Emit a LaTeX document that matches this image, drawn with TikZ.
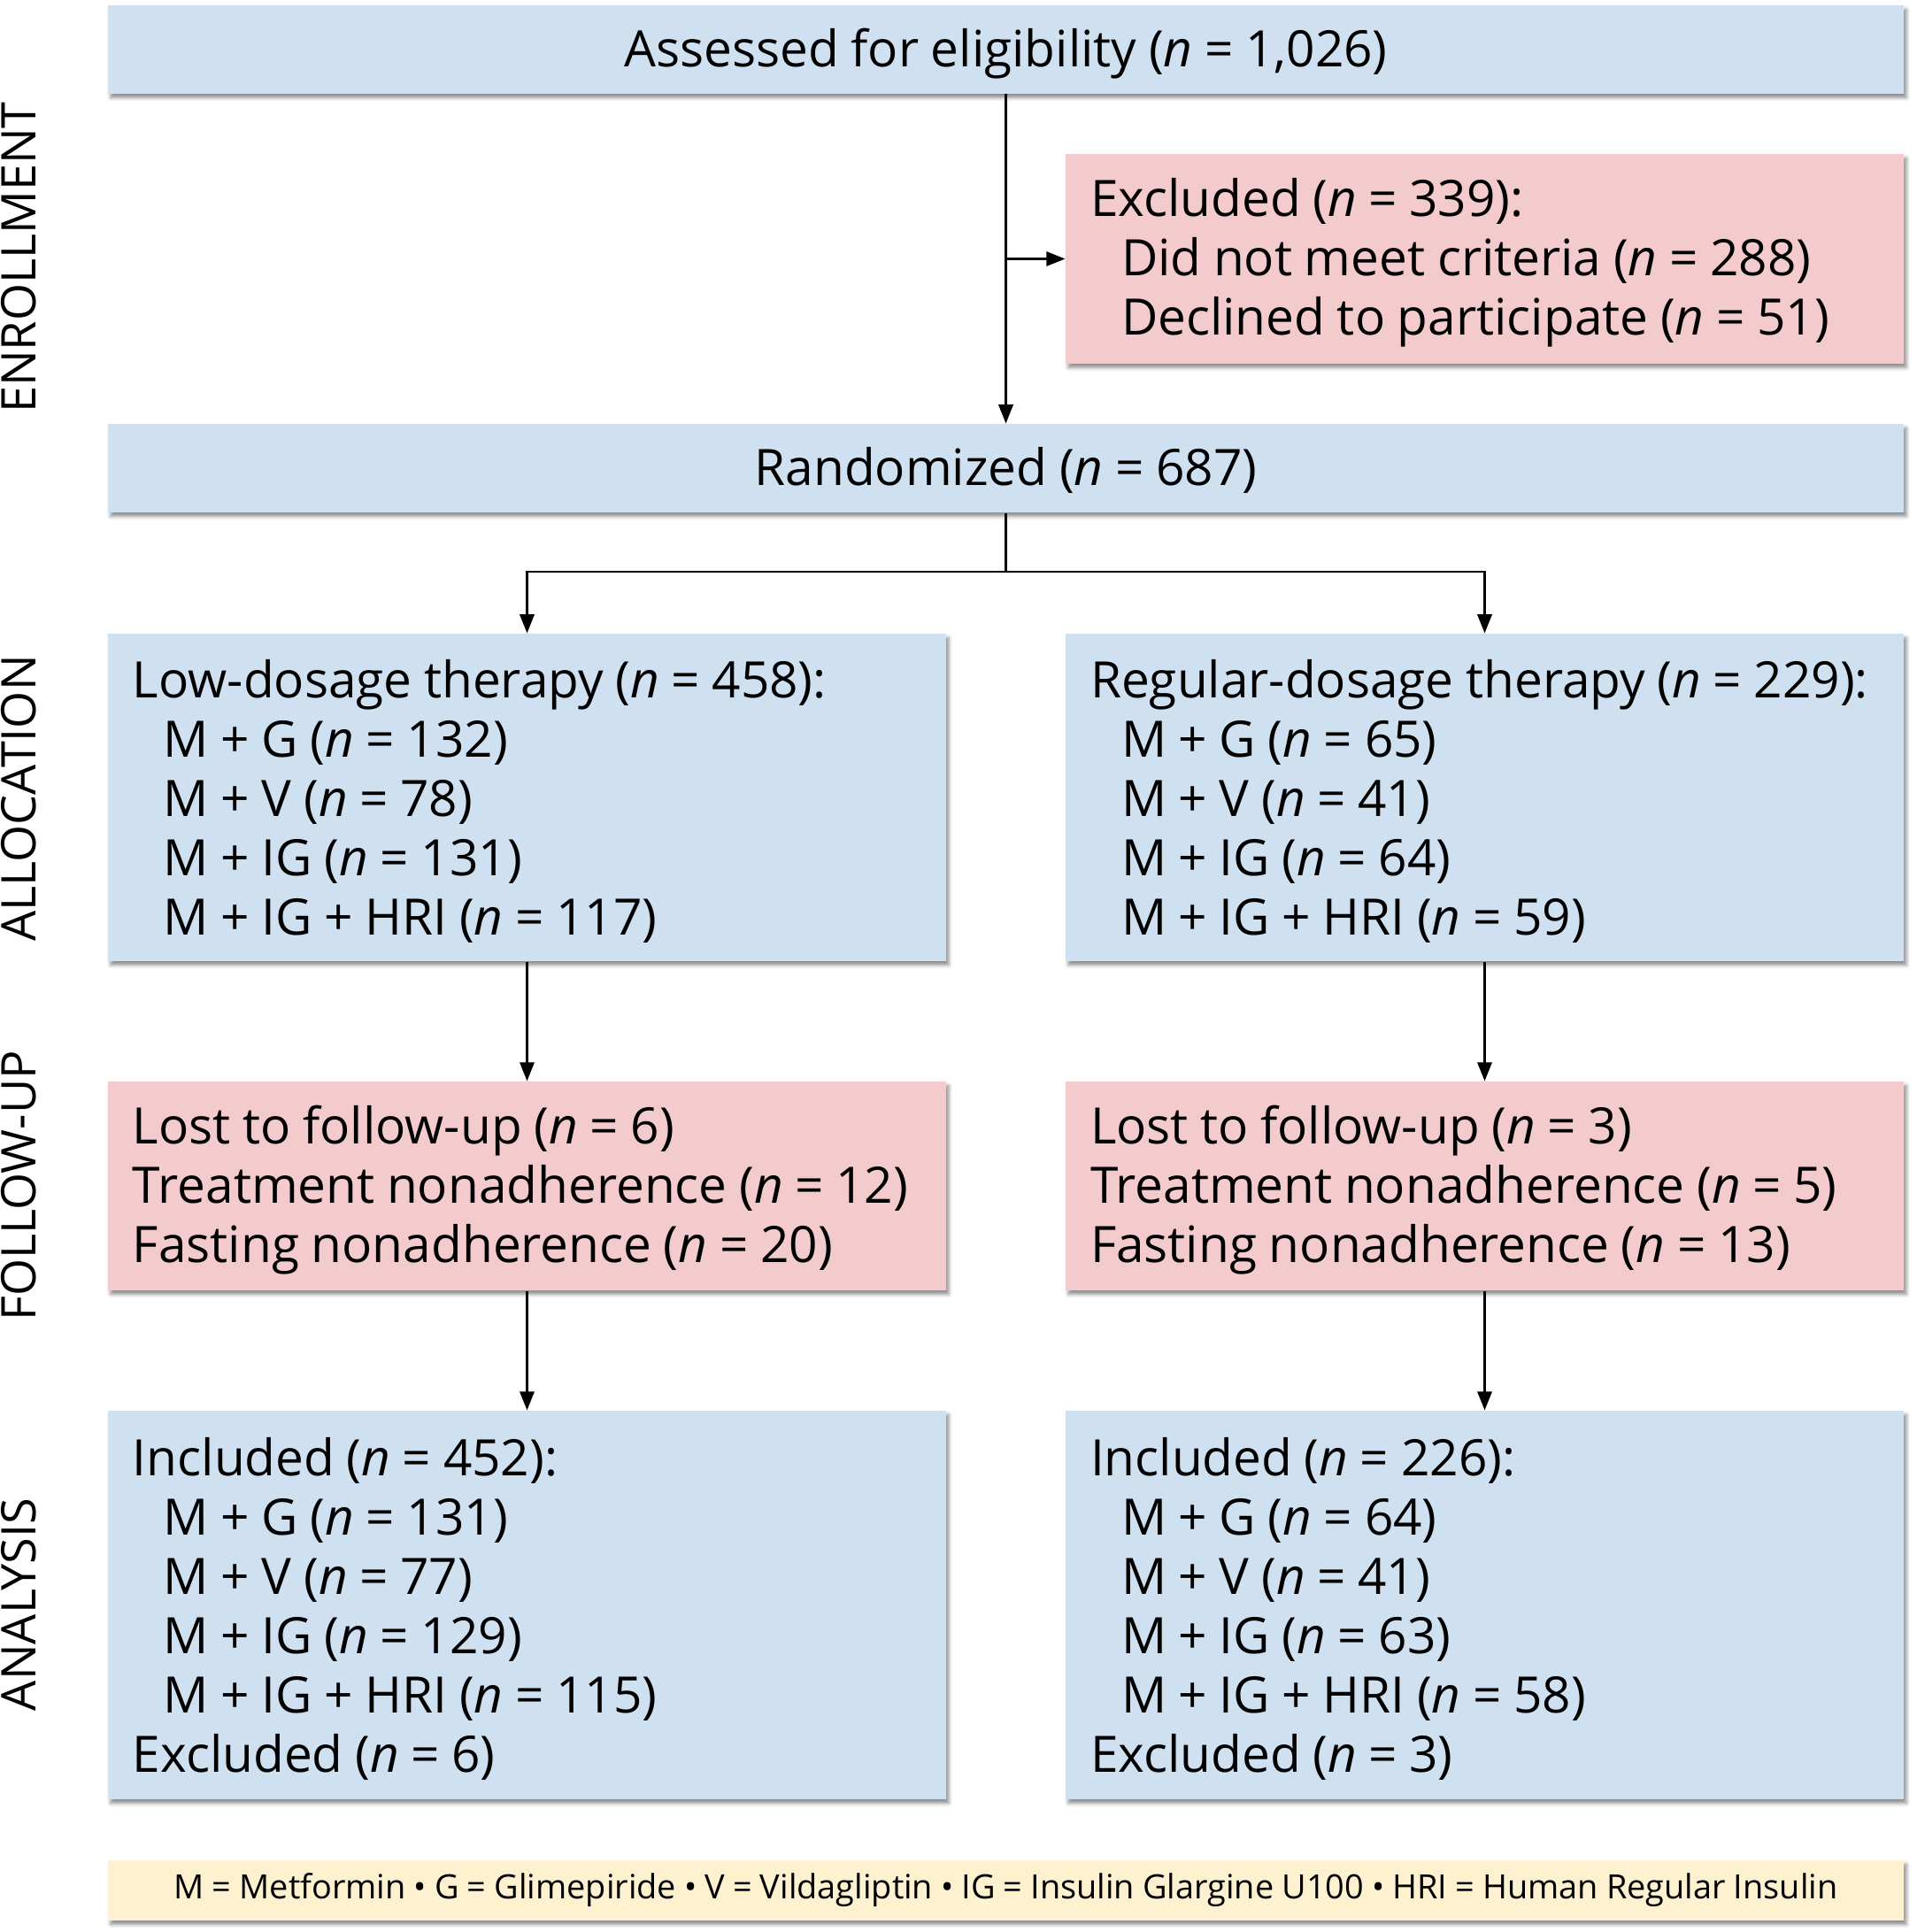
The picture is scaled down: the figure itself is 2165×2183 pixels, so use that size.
\documentclass[tikz,border=0pt]{standalone}
\usepackage{fontspec}
\setmainfont{Open Sans}
\usetikzlibrary{arrows.meta,shadows.blur}
\definecolor{boxblue}{RGB}{207,224,241}
\definecolor{boxpink}{RGB}{243,203,204}
\definecolor{boxyellow}{RGB}{253,241,207}
\newcommand{\nn}{\textit{n}}
\newcommand{\ind}{\hspace*{14pt}}
\newcommand{\tightspaces}{\spaceskip=0.24em plus 0.05em minus 0.02em\relax}
\newcommand{\boxfont}{\fontsize{22.7pt}{26.8pt}\selectfont}
\newcommand{\legendfont}{\fontsize{15.15pt}{18pt}\selectfont}
\begin{document}
\begin{tikzpicture}[x=0.4pt,y=-0.4pt,
  box/.style={draw=none, inner xsep=11.2pt, inner ysep=0pt, align=left,
    font=\boxfont, execute at begin node={\tightspaces},
    blur shadow={shadow xshift=1.2pt, shadow yshift=-1.8pt, shadow blur radius=1.6pt, shadow opacity=45}},
  bluebox/.style={box, fill=boxblue},
  pinkbox/.style={box, fill=boxpink},
  widebox/.style={minimum width=811.6pt, minimum height=40pt, align=center,
    text height=21pt, text depth=5.2pt},
  halfbox/.style={text width=356.4pt, execute at begin node={\tightspaces\rule{0pt}{21pt}}},
  conn/.style={line width=1.05pt, -{Triangle[length=8.5pt,width=6.5pt]}},
  plain/.style={line width=1.05pt},
  sidelabel/.style={rotate=90, font=\fontsize{21.6pt}{24pt}\selectfont, inner sep=0pt},
]
\useasboundingbox (0,0) rectangle (2165,2183);

% side labels
\node[sidelabel] (lenr) at (21,291) {ENROLLMENT};
\node[sidelabel] (lall) at (21,902) {ALLOCATION};
\node[sidelabel] (lfol) at (21,1340) {FOLLOW-UP};
\node[sidelabel] (lana) at (21,1813) {ANALYSIS};

% boxes
\node[bluebox, widebox] (top) at (1136.5,56) {Assessed for eligibility (\nn{} = 1,026)};
\node[pinkbox, halfbox, minimum height=94.8pt] (excl) at (1677.5,292.5)
  {Excluded (\nn{} = 339):\\
   \ind Did not meet criteria (\nn{} = 288)\\
   \ind Declined to participate (\nn{} = 51)};
\node[bluebox, widebox] (rand) at (1136.5,529) {Randomized (\nn{} = 687)};

\node[bluebox, halfbox, minimum height=148pt] (allocL) at (595.5,901)
  {Low-dosage therapy (\nn{} = 458):\\
   \ind M + G (\nn{} = 132)\\
   \ind M + V (\nn{} = 78)\\
   \ind M + IG (\nn{} = 131)\\
   \ind M + IG + HRI (\nn{} = 117)};
\node[bluebox, halfbox, minimum height=148pt] (allocR) at (1677.5,901)
  {Regular-dosage therapy (\nn{} = 229):\\
   \ind M + G (\nn{} = 65)\\
   \ind M + V (\nn{} = 41)\\
   \ind M + IG (\nn{} = 64)\\
   \ind M + IG + HRI (\nn{} = 59)};

\node[pinkbox, halfbox, minimum height=94.4pt] (fuL) at (595.5,1340)
  {Lost to follow-up (\nn{} = 6)\\
   Treatment nonadherence (\nn{} = 12)\\
   Fasting nonadherence (\nn{} = 20)};
\node[pinkbox, halfbox, minimum height=94.4pt] (fuR) at (1677.5,1340)
  {Lost to follow-up (\nn{} = 3)\\
   Treatment nonadherence (\nn{} = 5)\\
   Fasting nonadherence (\nn{} = 13)};

\node[bluebox, halfbox, minimum height=175.6pt] (anL) at (595.5,1813.5)
  {Included (\nn{} = 452):\\
   \ind M + G (\nn{} = 131)\\
   \ind M + V (\nn{} = 77)\\
   \ind M + IG (\nn{} = 129)\\
   \ind M + IG + HRI (\nn{} = 115)\\
   Excluded (\nn{} = 6)};
\node[bluebox, halfbox, minimum height=175.6pt] (anR) at (1677.5,1813.5)
  {Included (\nn{} = 226):\\
   \ind M + G (\nn{} = 64)\\
   \ind M + V (\nn{} = 41)\\
   \ind M + IG (\nn{} = 63)\\
   \ind M + IG + HRI (\nn{} = 58)\\
   Excluded (\nn{} = 3)};

\node[box, fill=boxyellow, minimum width=811.6pt, minimum height=27.2pt, align=center,
      font=\legendfont] (legend) at (1136.5,2136)
  {M = Metformin • G = Glimepiride • V = Vildagliptin • IG = Insulin Glargine U100 • HRI = Human Regular Insulin};

% connectors
\draw[conn] (top.south) -- (rand.north);
\coordinate (bx) at (top.south |- excl.west);
\draw[conn] (bx) -- (excl.west);
\coordinate (split) at (1136.5,646);
\draw[plain] (rand.south) -- (split);
\draw[conn] (split) -| (allocL.north);
\draw[conn] (split) -| (allocR.north);
\draw[conn] (allocL.south) -- (fuL.north);
\draw[conn] (allocR.south) -- (fuR.north);
\draw[conn] (fuL.south) -- (anL.north);
\draw[conn] (fuR.south) -- (anR.north);
\end{tikzpicture}
\end{document}
